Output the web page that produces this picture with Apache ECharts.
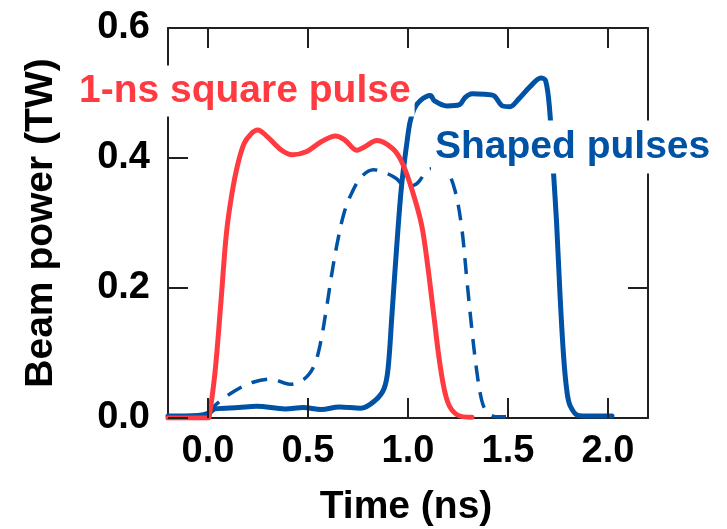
<!DOCTYPE html>
<html>
<head>
<meta charset="utf-8">
<script src="https://cdn.jsdelivr.net/npm/echarts@6/dist/echarts.min.js"></script>
<style>
html,body{margin:0;padding:0;background:#fff;}
#chart{width:727px;height:529px;}
</style>
</head>
<body>
<div id="chart"></div>
<script>
// ---- data (time in ns, power in TW) ----
const xTicks = [0.0, 0.5, 1.0, 1.5, 2.0];
const yTicks = [0.0, 0.2, 0.4, 0.6];

const squareT = [-0.2, 0.0, 0.006, 0.035, 0.065, 0.092, 0.12, 0.147, 0.18, 0.215, 0.248, 0.296, 0.368, 0.422, 0.494, 0.566, 0.638, 0.683, 0.746, 0.782, 0.845, 0.925, 0.972, 1.02, 1.068, 1.099, 1.129, 1.163, 1.198, 1.245, 1.32];
const squareP = [0.0, 0.0, 0.002, 0.07, 0.18, 0.284, 0.346, 0.388, 0.422, 0.437, 0.443, 0.433, 0.412, 0.405, 0.410, 0.425, 0.434, 0.428, 0.412, 0.417, 0.427, 0.414, 0.392, 0.351, 0.297, 0.233, 0.158, 0.076, 0.025, 0.005, 0.001];

const shapedT = [-0.2, -0.05, 0.0, 0.036, 0.153, 0.243, 0.386, 0.476, 0.566, 0.656, 0.764, 0.836, 0.88, 0.9, 0.92, 0.945, 0.968, 0.993, 1.01, 1.03, 1.06, 1.112, 1.132, 1.195, 1.258, 1.285, 1.321, 1.384, 1.429, 1.473, 1.509, 1.554, 1.608, 1.665, 1.688, 1.708, 1.727, 1.743, 1.76, 1.778, 1.795, 1.812, 1.85, 1.9, 2.02];
const shapedP = [0.003, 0.004, 0.007, 0.014, 0.016, 0.018, 0.014, 0.016, 0.013, 0.017, 0.015, 0.027, 0.045, 0.075, 0.16, 0.27, 0.358, 0.42, 0.455, 0.475, 0.488, 0.496, 0.488, 0.480, 0.482, 0.493, 0.499, 0.498, 0.496, 0.480, 0.479, 0.491, 0.509, 0.523, 0.519, 0.475, 0.38, 0.30, 0.19, 0.095, 0.04, 0.018, 0.004, 0.003, 0.003];

const dashedT = [0.0, 0.045, 0.135, 0.225, 0.315, 0.41, 0.477, 0.527, 0.56, 0.593, 0.618, 0.645, 0.68, 0.72, 0.77, 0.827, 0.889, 0.943, 0.985, 1.042, 1.096, 1.15, 1.195, 1.235, 1.268, 1.293, 1.318, 1.343, 1.368, 1.393, 1.44, 1.49];
const dashedP = [0.007, 0.022, 0.042, 0.055, 0.060, 0.052, 0.059, 0.078, 0.112, 0.17, 0.22, 0.267, 0.315, 0.347, 0.372, 0.382, 0.377, 0.368, 0.356, 0.36, 0.380, 0.386, 0.380, 0.350, 0.294, 0.217, 0.14, 0.074, 0.028, 0.01, 0.002, 0.002];

const labels = { square: '1-ns square pulse', shaped: 'Shaped pulses' };
const axisTitles = { x: 'Time (ns)', y: 'Beam power (TW)' };

// ---- styling / layout ----
const RED = '#ff3b41';
const BLUE = '#0052a5';
const INK = '#231f20';
const FONT = '"Liberation Sans", Arial, Helvetica, sans-serif';
const X_MIN = -0.2, X_MAX = 2.2, Y_MIN = 0, Y_MAX = 0.6;
const W = 727, H = 529;
const GRID = { left: 168, right: 79, top: 28, bottom: 111 };
const TICK_LEN = 20; // px

const pairs = (t, p) => t.map((v, i) => [v, p[i]]);

// inward tick marks on all four frame sides, as short two-point line series in axis units
const plotW = W - GRID.left - GRID.right;
const plotH = H - GRID.top - GRID.bottom;
const tickDx = TICK_LEN * (X_MAX - X_MIN) / plotW;
const tickDy = TICK_LEN * (Y_MAX - Y_MIN) / plotH;
const tickSegments = [];
xTicks.forEach(t => {
  tickSegments.push([[t, Y_MIN], [t, Y_MIN + tickDy]]);
  tickSegments.push([[t, Y_MAX], [t, Y_MAX - tickDy]]);
});
yTicks.forEach(v => {
  tickSegments.push([[X_MIN, v], [X_MIN + tickDx, v]]);
  tickSegments.push([[X_MAX, v], [X_MAX - tickDx, v]]);
});
const tickSeries = tickSegments.map((seg, i) => ({
  name: 'tick' + i, type: 'line', data: seg,
  showSymbol: false, symbol: 'none', silent: true, clip: false,
  lineStyle: { color: INK, width: 2, cap: 'butt' }, z: 6
}));

const chart = echarts.init(document.getElementById('chart'), null, { renderer: 'canvas' });

const lineAxis = { show: true, onZero: false, lineStyle: { color: INK, width: 2 } };
const labelStyle = { fontFamily: FONT, fontWeight: 'bold', fontSize: 38, color: '#000' };

chart.setOption({
  animation: false,
  backgroundColor: '#fff',
  grid: Object.assign({ containLabel: false }, GRID),
  xAxis: [
    {
      type: 'value', min: X_MIN, max: X_MAX, position: 'bottom',
      axisLine: lineAxis,
      axisTick: { show: false },
      axisLabel: Object.assign({}, labelStyle, { customValues: xTicks, margin: 15, formatter: v => v.toFixed(1) }),
      splitLine: { show: false }
    },
    {
      type: 'value', min: X_MIN, max: X_MAX, position: 'top',
      axisLine: lineAxis,
      axisTick: { show: false },
      axisLabel: { show: false },
      splitLine: { show: false }
    }
  ],
  yAxis: [
    {
      type: 'value', min: Y_MIN, max: Y_MAX, interval: 0.2, position: 'left',
      axisLine: lineAxis,
      axisTick: { show: false },
      axisLabel: Object.assign({}, labelStyle, { customValues: yTicks, margin: 18, formatter: v => v.toFixed(1) }),
      splitLine: { show: false }
    },
    {
      type: 'value', min: Y_MIN, max: Y_MAX, interval: 0.2, position: 'right',
      axisLine: lineAxis,
      axisTick: { show: false },
      axisLabel: { show: false },
      splitLine: { show: false }
    }
  ],
  series: [
    {
      name: 'shaped (dashed)', type: 'line', data: pairs(dashedT, dashedP),
      showSymbol: false, smooth: 0.35,
      lineStyle: { color: BLUE, width: 3.5, type: [16, 11] }, z: 3
    },
    {
      name: 'shaped', type: 'line', data: pairs(shapedT, shapedP),
      showSymbol: false, smooth: 0.35,
      lineStyle: { color: BLUE, width: 5, cap: 'round', join: 'round' }, z: 4
    },
    {
      name: 'square', type: 'line', data: pairs(squareT, squareP),
      showSymbol: false, smooth: 0.35,
      lineStyle: { color: RED, width: 5, cap: 'round', join: 'round' }, z: 5
    }
  ].concat(tickSeries),
  graphic: [
    {
      type: 'text', z: 100, x: 75, y: 91,
      style: {
        text: labels.square, fill: RED, font: 'bold 39px ' + FONT,
        align: 'left', verticalAlign: 'middle', lineHeight: 39,
        backgroundColor: '#fff', padding: [5, 4, 7, 4]
      }
    },
    {
      type: 'text', z: 100, x: 431, y: 147,
      style: {
        text: labels.shaped, fill: BLUE, font: 'bold 39px ' + FONT,
        align: 'left', verticalAlign: 'middle', lineHeight: 39,
        backgroundColor: '#fff', padding: [6, 4, 8, 4]
      }
    },
    {
      type: 'text', z: 100, x: 406, y: 507,
      style: {
        text: axisTitles.x, fill: '#000', font: 'bold 39px ' + FONT,
        align: 'center', verticalAlign: 'middle'
      }
    },
    {
      type: 'text', z: 100, x: 41, y: 223, rotation: Math.PI / 2,
      style: {
        text: axisTitles.y, fill: '#000', font: 'bold 39px ' + FONT,
        align: 'center', verticalAlign: 'middle'
      }
    }
  ]
});
</script>
</body>
</html>
